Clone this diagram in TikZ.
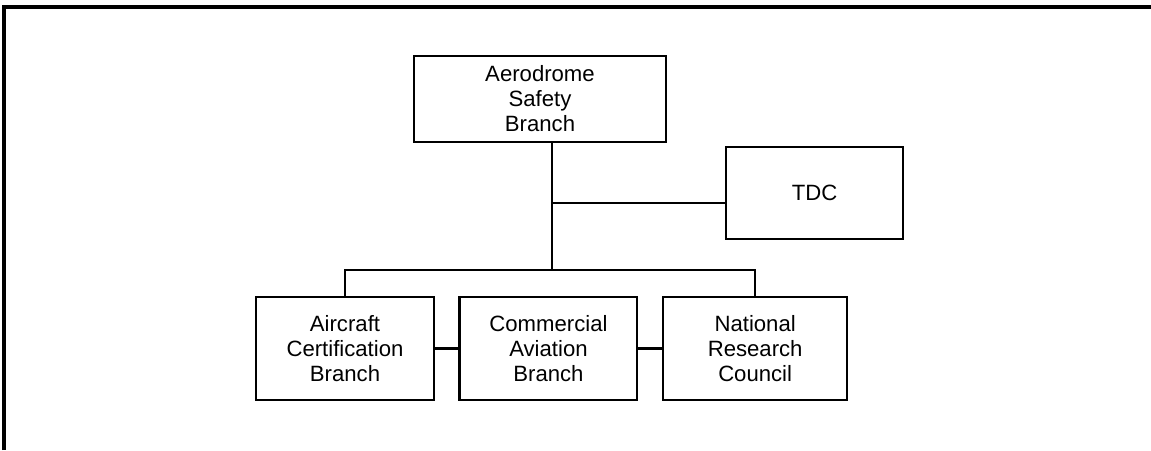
\documentclass[tikz,border=0pt]{standalone}
\usepackage{fontspec}
\setmainfont{Liberation Sans}
\usetikzlibrary{positioning,calc}
\definecolor{ink}{HTML}{000000}
\tikzset{
  box/.style={draw=ink,line width=1.4pt,fill=white,align=center,minimum height=2.05cm,minimum width=3.55cm,font=\fontsize{12.6}{14.2}\selectfont,text=ink},
  link/.style={draw=ink,line width=1.4pt},
  frame/.style={draw=ink,line width=2.1pt}
}
\begin{document}
\begin{tikzpicture}[node distance=0.47cm]
    \useasboundingbox (0,0) rectangle (23.02,9);
    % open frame round the chart
    \coordinate (fbot) at (0.08,0);
    \coordinate (fcorner) at (0.08,8.86);
    \coordinate (fright) at (23.02,8.86);
    \draw[frame] (fbot) -- (fcorner) -- (fright);

    \node[box,minimum width=5.03cm,minimum height=1.71cm] (asb) at (10.8,7.02) {Aerodrome\\Safety\\Branch};
    \node[box,minimum width=3.53cm,minimum height=1.83cm] (tdc) at (16.29,5.14) {TDC};

    \node[box] (cert) at (6.9,2.03) {Aircraft\\Certification\\Branch};
    \node[box,right=of cert] (comm) {Commercial\\Aviation\\Branch};
    \node[box,right=of comm,minimum width=3.68cm] (nrc) {National\\Research\\Council};

    \coordinate (spine) at (11.04,3.6);
    \coordinate (tee) at (11.04,4.94);

    \draw[link] (asb.south -| spine) -- (spine);
    \draw[link] (tee) -- (tee -| tdc.west);
    \draw[link] (cert.north) |- (spine) -| (nrc.north);
    \draw[link] (cert) -- (comm);
    \draw[link] (comm) -- (nrc);
  \end{tikzpicture}
\end{document}
